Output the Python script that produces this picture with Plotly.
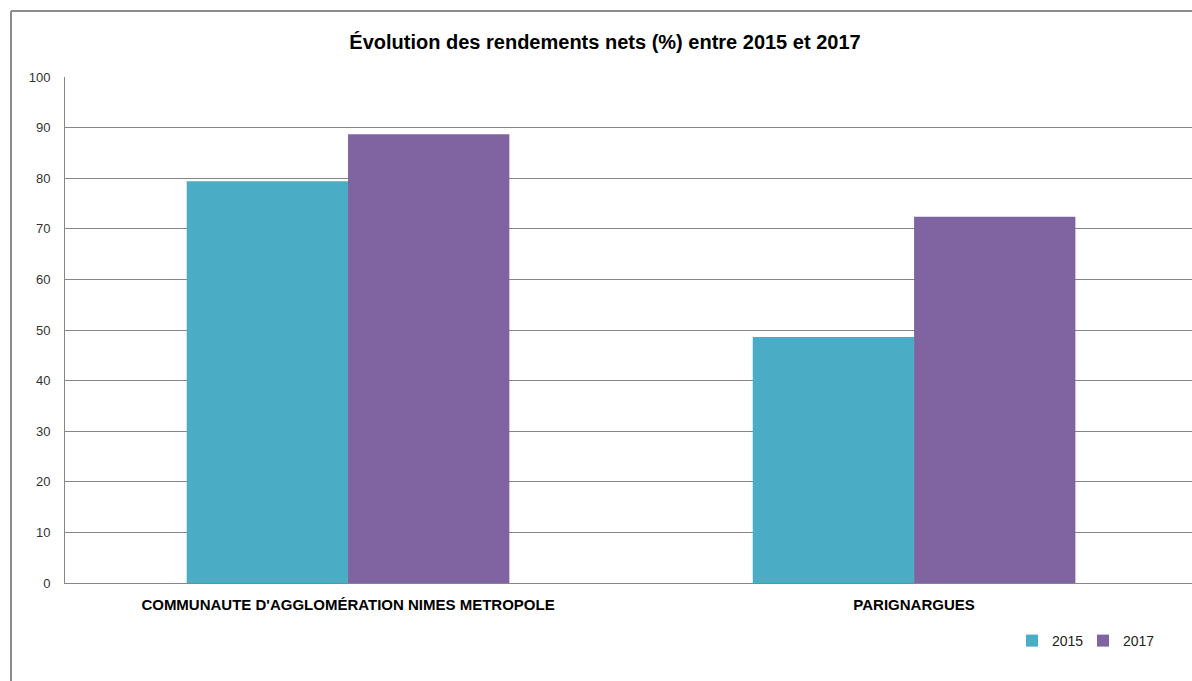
import plotly.graph_objects as go

categories = ["COMMUNAUTE D'AGGLOMÉRATION NIMES METROPOLE", "PARIGNARGUES"]
series_names = ["2015", "2017"]
values_2015 = [79.4, 48.6]
values_2017 = [88.7, 72.4]
colors = ["#4BACC6", "#8064A2"]
title_text = "Évolution des rendements nets (%) entre 2015 et 2017"
y_ticks = [0, 10, 20, 30, 40, 50, 60, 70, 80, 90, 100]

W, H = 1192, 681
L, R, T, B = 65, 0, 77, 98
pw, ph = W - L - R, H - T - B

def px_x(x):
    return (x - L) / pw

def px_y(y):
    return (H - B - y) / ph

fig = go.Figure()
for name, vals, col in zip(series_names, [values_2015, values_2017], colors):
    fig.add_trace(go.Bar(name=name, x=categories, y=vals, marker=dict(color=col, line=dict(width=0))))

fig.update_layout(
    width=W, height=H,
    margin=dict(l=L, r=R, t=T, b=B, autoexpand=False),
    paper_bgcolor="white", plot_bgcolor="white",
    barmode="group", bargap=0.43, bargroupgap=0,
    font=dict(family="Liberation Sans, Arial, sans-serif", size=12, color="#222"),
    title=dict(text=title_text, x=605 / W, xanchor="center", y=1 - 42 / H, yanchor="middle",
               font=dict(size=20, color="#000", family="Liberation Sans, Arial, sans-serif", weight="bold")),
    showlegend=True,
    legend=dict(orientation="h", x=px_x(1012), xanchor="left", y=px_y(641), yanchor="middle",
                font=dict(size=14, color="#222"), itemwidth=30, traceorder="normal",
                bgcolor="rgba(0,0,0,0)", tracegroupgap=0, entrywidth=26, entrywidthmode="pixels"),
    xaxis=dict(range=[-0.5, 1.491], showgrid=False, showline=True, linecolor="#868686", linewidth=1,
               ticks="", tickfont=dict(size=15, color="#000", weight="bold"), fixedrange=True,
               ticklabelstandoff=8),
    yaxis=dict(range=[0, 100], tickvals=y_ticks, showgrid=True, gridcolor="#868686", gridwidth=1,
               showline=True, linecolor="#868686", linewidth=1, ticks="", zeroline=False,
               tickfont=dict(size=13, color="#333"), ticklabelstandoff=11),
    shapes=[
        dict(type="line", xref="paper", yref="paper", x0=px_x(11), x1=px_x(11), y0=px_y(11), y1=px_y(H + 5),
             line=dict(color="#8c8c8c", width=2)),
        dict(type="line", xref="paper", yref="paper", x0=px_x(11), x1=px_x(W + 5), y0=px_y(11), y1=px_y(11),
             line=dict(color="#8c8c8c", width=2)),
    ],
)
fig.write_html("out.html")
